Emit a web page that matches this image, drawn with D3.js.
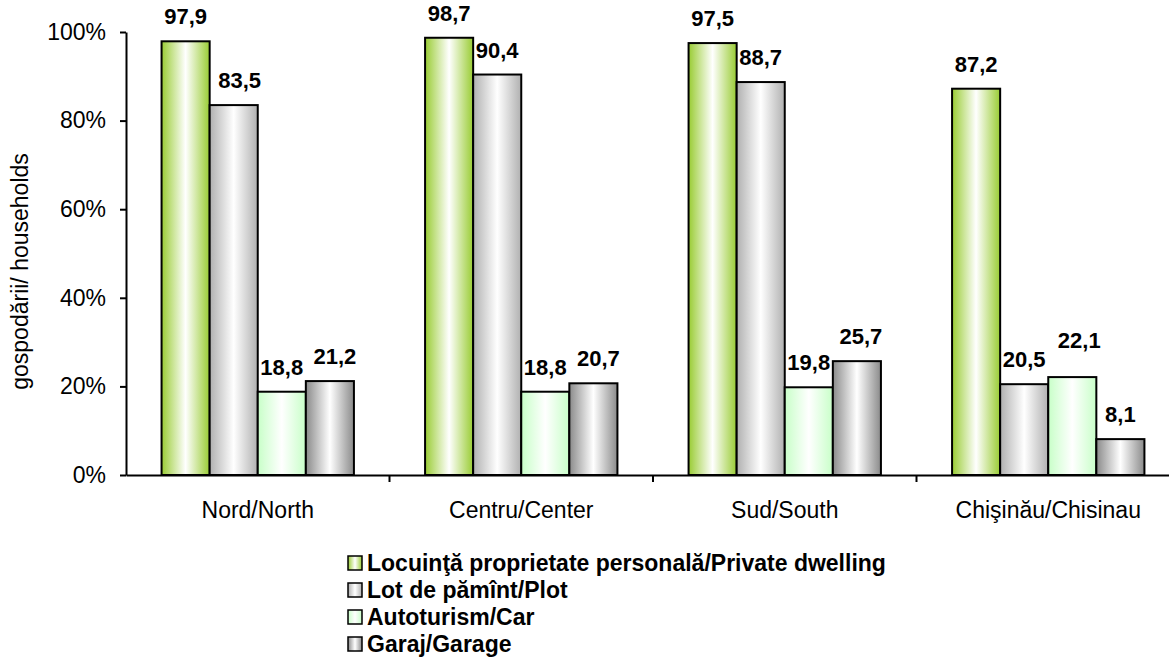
<!DOCTYPE html>
<html><head><meta charset="utf-8">
<script src="https://cdn.jsdelivr.net/npm/d3@7"></script>
<style>html,body{margin:0;padding:0;background:#fff;overflow:hidden}</style>
</head><body><svg id="c" width="1169" height="659"></svg>
<script>
const categories = ["Nord/North", "Centru/Center", "Sud/South", "Chişinău/Chisinau"];
const seriesNames = ["Locuinţă proprietate personală/Private dwelling", "Lot de pămînt/Plot", "Autoturism/Car", "Garaj/Garage"];
const privateDwelling = [97.9, 98.7, 97.5, 87.2];
const plot = [83.5, 90.4, 88.7, 20.5];
const car = [18.8, 18.8, 19.8, 22.1];
const garage = [21.2, 20.7, 25.7, 8.1];
const yTicks = [0, 20, 40, 60, 80, 100];

const series = [privateDwelling, plot, car, garage];
const gradStops = [
  ["#99cc33", "#ffffff", "#99cc33"],
  ["#b0b0b0", "#ffffff", "#b0b0b0"],
  ["#c8ffc8", "#ffffff", "#c8ffc8"],
  ["#8a8a8a", "#ffffff", "#8a8a8a"]
];
const labelDx = [[0,0,0,0],[6,0,0,0],[0,0,0,7],[5,5,4,0]];
const labelDy = [[0,0,0,0],[0,0,0,0],[0,0,0,-12],[0,0,0,0]];
const FONT = "Liberation Sans, Arial, sans-serif";

const svg = d3.select("#c");
const defs = svg.append("defs");
gradStops.forEach((s, i) => {
  const g = defs.append("linearGradient").attr("id", "g" + i).attr("x1", "0%").attr("x2", "100%").attr("y1", "0%").attr("y2", "0%");
  g.append("stop").attr("offset", "0%").attr("stop-color", s[0]);
  g.append("stop").attr("offset", "50%").attr("stop-color", s[1]);
  g.append("stop").attr("offset", "100%").attr("stop-color", s[2]);
});

const mLeft = 126, mRight = 1180, mTop = 32, mBottom = 475;
const x = d3.scaleBand().domain(categories).range([mLeft, mRight]).paddingInner(0.27).paddingOuter(0.135);
const xs = d3.scaleBand().domain(d3.range(series.length)).range([0, x.bandwidth()]);
const y = d3.scaleLinear().domain([0, 100]).range([mBottom, mTop]);

const groups = svg.selectAll("g.cat").data(categories).join("g").attr("class", "cat")
  .attr("transform", d => `translate(${x(d)},0)`);
series.forEach((vals, si) => {
  groups.append("rect")
    .attr("x", xs(si)).attr("width", xs.bandwidth())
    .attr("y", (d, ci) => y(vals[ci])).attr("height", (d, ci) => mBottom - y(vals[ci]))
    .attr("fill", `url(#g${si})`).attr("stroke", "#000").attr("stroke-width", 2);
  groups.append("text")
    .attr("x", (d, ci) => xs(si) + xs.bandwidth() / 2 + labelDx[si][ci])
    .attr("y", (d, ci) => y(vals[ci]) - 17 + labelDy[si][ci])
    .attr("text-anchor", "middle")
    .attr("font-family", FONT).attr("font-weight", "bold").attr("font-size", 22)
    .text((d, ci) => vals[ci].toFixed(1).replace(".", ","));
});

const yAxis = svg.append("g").attr("transform", `translate(${mLeft},0)`)
  .call(d3.axisLeft(y).tickValues(yTicks).tickFormat(d => d + "%").tickSize(6).tickSizeOuter(0));
yAxis.select(".domain").attr("stroke", "#000").attr("stroke-width", 2);
yAxis.selectAll(".tick line").attr("stroke", "#000").attr("stroke-width", 2);
yAxis.selectAll(".tick text").attr("font-family", FONT).attr("font-size", 23).attr("fill", "#000").attr("x", -20);

const xAxis = svg.append("g").attr("transform", `translate(0,${mBottom})`)
  .call(d3.axisBottom(x).tickSize(0).tickSizeOuter(0));
xAxis.select(".domain").attr("stroke", "#000").attr("stroke-width", 2);
xAxis.selectAll(".tick text").attr("font-family", FONT).attr("font-size", 23).attr("fill", "#000")
  .attr("y", 43).attr("dy", 0);
const sepTicks = categories.map((c, i) => mLeft + (mRight - mLeft) * i / categories.length).slice(1).concat([mRight]);
svg.append("g").selectAll("line").data(sepTicks).join("line")
  .attr("x1", d => d).attr("x2", d => d).attr("y1", mBottom).attr("y2", mBottom + 7)
  .attr("stroke", "#000").attr("stroke-width", 2);

svg.append("text").attr("transform", `translate(28,${(mTop + mBottom) / 2 + 18}) rotate(-90)`)
  .attr("text-anchor", "middle").attr("font-family", FONT).attr("font-size", 23)
  .text("gospodării/ households");

const lg = svg.append("g").attr("transform", "translate(348,563)");
const items = lg.selectAll("g").data(seriesNames).join("g").attr("transform", (d, i) => `translate(0,${i * 27})`);
items.append("rect").attr("x", 0).attr("y", -7).attr("width", 14).attr("height", 14)
  .attr("fill", (d, i) => `url(#g${i})`).attr("stroke", "#000").attr("stroke-width", 1.5);
items.append("text").attr("x", 19).attr("y", 8)
  .attr("font-family", FONT).attr("font-weight", "bold").attr("font-size", 23)
  .text(d => d);
</script></body></html>
